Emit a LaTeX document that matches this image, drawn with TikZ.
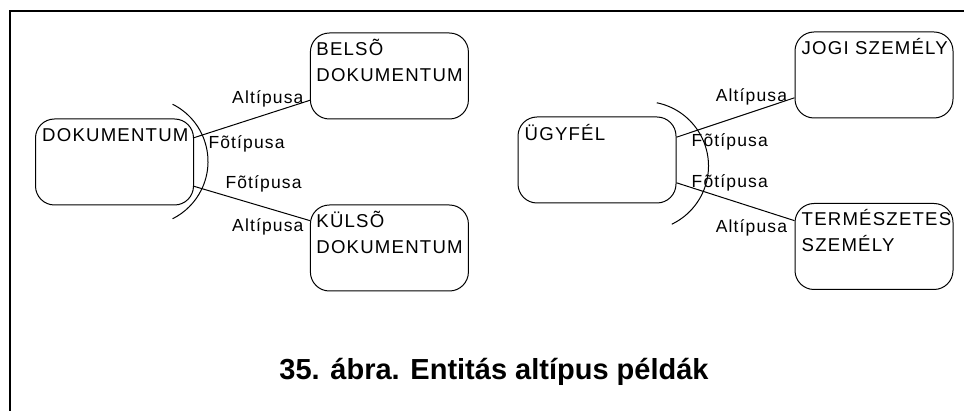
\documentclass[tikz,border=0pt]{standalone}
\usepackage{fontspec}
\newfontfamily\entfont{Liberation Sans}[LetterSpace=6.5]
\newfontfamily\capfont{Liberation Sans}
\begin{document}
\begin{tikzpicture}[x=1pt,y=1pt,
    entity/.style={draw,line width=1pt,rounded corners=19pt,minimum width=158pt,
      minimum height=86pt,inner sep=0pt},
    enttext/.style={anchor=base west,inner sep=0pt,align=left,
      font=\entfont\fontsize{18.6}{26}\selectfont},
    rolename/.style={inner sep=0pt,font=\entfont\fontsize{17.5}{20}\selectfont},
    link/.style={line width=1pt}]
  \useasboundingbox (0,0) rectangle (964,-411);
  \draw[line width=2pt] (10,-411) -- (10,-11) -- (964,-11);
  % dokumentum
  \node[entity] (dok) at (114.5,-162) {};
  \node[enttext] (doktext) at ([shift={(7,-22.7)}]dok.north west) {DOKUMENTUM};
  \node[entity] (belso) at (389.4,-76) {};
  \node[enttext] (belsotext) at ([shift={(6.3,-49)}]belso.north west) {BELSÕ\\DOKUMENTUM};
  \node[entity] (kulso) at (389.4,-248) {};
  \node[enttext] (kulsotext) at ([shift={(6.3,-49)}]kulso.north west) {KÜLSÕ\\DOKUMENTUM};
  \draw[link] (dok.17.7) -- (belso.197)
    node[rolename,at start,anchor=base west,shift={(14,-11)}] (f1) {Fõtípusa}
    node[rolename,at end,anchor=base east,shift={(-6,-3)}] (a1) {Altípusa};
  \draw[link] (dok.-17) -- (kulso.161.7)
    node[rolename,at start,anchor=base west,shift={(31,-2)}] (f2) {Fõtípusa}
    node[rolename,at end,anchor=base east,shift={(-6,-11)}] (a2) {Altípusa};
  \draw[link] (144,-161.5) ++(63.5:64) arc[start angle=63.5,end angle=-63.5,radius=64];
  % ugyfel
  \node[entity] (ugyfel) at (597,-160) {};
  \node[enttext] (ugyfeltext) at ([shift={(7,-24)}]ugyfel.north west) {ÜGYFÉL};
  \node[entity] (jogi) at (874,-75) {};
  \node[enttext] (jogitext) at ([shift={(7,-23)}]jogi.north west) {JOGI SZEMÉLY};
  \node[entity] (term) at (874,-246.5) {};
  \node[enttext] (termtext) at ([shift={(7,-48.5)}]term.north west) {TERMÉSZETES\\SZEMÉLY};
  \draw[link] (ugyfel.16.2) -- (jogi.196.9)
    node[rolename,at start,anchor=base west,shift={(14.7,-9.7)}] (f3) {Fõtípusa}
    node[rolename,at end,anchor=base east,shift={(-7,-4)}] (a3) {Altípusa};
  \draw[link] (ugyfel.-16.9) -- (term.162.1)
    node[rolename,at start,anchor=base west,shift={(14.7,-5)}] (f4) {Fõtípusa}
    node[rolename,at end,anchor=base east,shift={(-7,-12)}] (a4) {Altípusa};
  \draw[link] (644,-166) ++(78.6:64.5) arc[start angle=78.6,end angle=-64.5,radius=64.5];
  % caption
  \node[inner sep=0pt,anchor=base,font=\capfont\bfseries\fontsize{29}{34}\selectfont]
    (caption) at (494,-379.3) {35. ábra. Entitás altípus példák};
\end{tikzpicture}
\end{document}
